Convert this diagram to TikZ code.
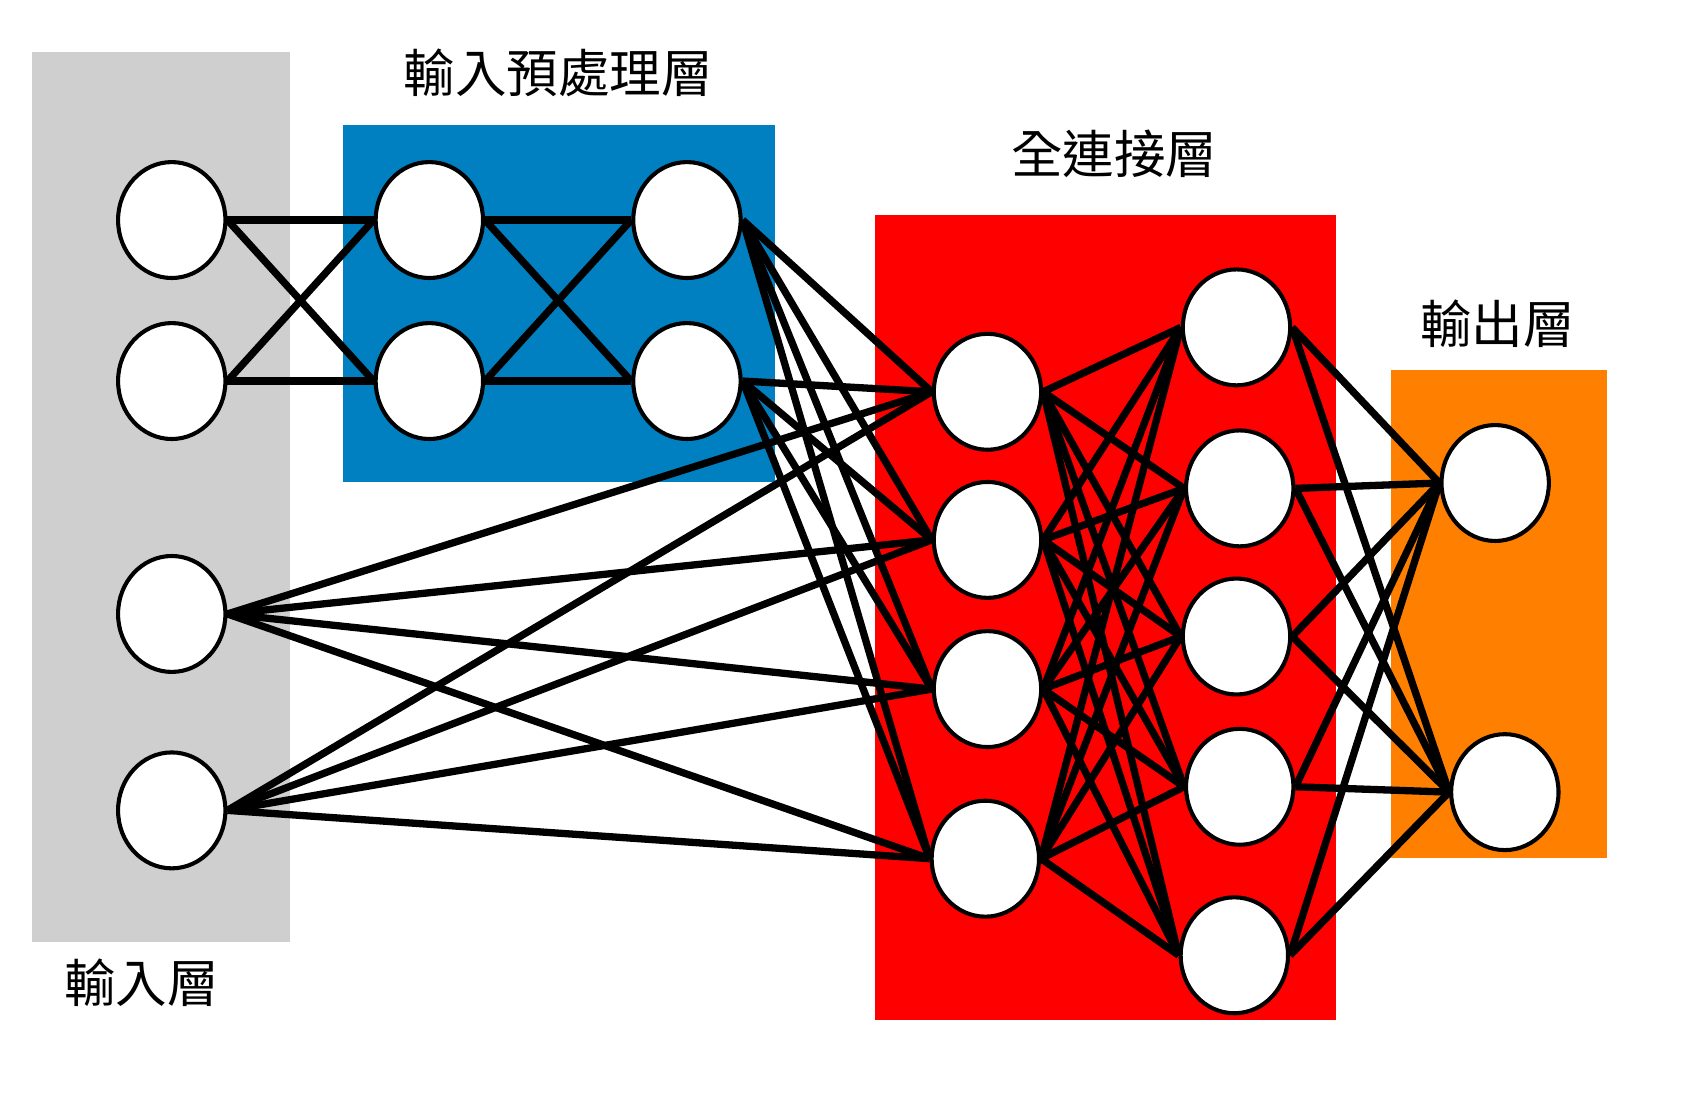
\documentclass[tikz,border=0pt]{standalone}
\usepackage{fontspec}
\newfontfamily\cjk{Noto Sans CJK TC}
\usetikzlibrary{shapes.geometric}
\pgfdeclarelayer{bg}
\pgfdeclarelayer{edges}
\pgfsetlayers{bg,edges,main}
\definecolor{graybox}{HTML}{CFCFCF}
\definecolor{bluebox}{HTML}{0080C0}
\definecolor{redbox}{HTML}{FF0000}
\definecolor{orangebox}{HTML}{FF8000}
\begin{document}
\begin{tikzpicture}[x=1pt,y=-1pt,
  neuron/.style={ellipse, draw=black, line width=3.8pt, fill=white, minimum width=100pt, minimum height=108pt, inner sep=0pt},
  conn/.style={line width=6.8pt, black},
  lbl/.style={font=\cjk\fontsize{48}{52}\selectfont, inner sep=0pt}]
\useasboundingbox (0,0) rectangle (1568,1029);
\begin{pgfonlayer}{bg}
  \fill[graybox] (30,48) rectangle (270,878);
  \fill[bluebox] (320,116) rectangle (722,449);
  \fill[redbox] (815,200) rectangle (1245,950);
  \fill[orangebox] (1296,345) rectangle (1497,799);
\end{pgfonlayer}
% input layer
\node[neuron] (i1) at (160,205) {};
\node[neuron] (i2) at (160,355) {};
\node[neuron] (i3) at (160,572) {};
\node[neuron] (i4) at (160,755) {};
% preprocessing
\node[neuron] (p1) at (400,205) {};
\node[neuron] (p2) at (400,355) {};
\node[neuron] (q1) at (640,205) {};
\node[neuron] (q2) at (640,355) {};
% fully connected
\node[neuron] (f1) at (920,365) {};
\node[neuron] (f2) at (920,503) {};
\node[neuron] (f3) at (920,642) {};
\node[neuron] (f4) at (918,800) {};
\node[neuron] (g1) at (1152,305) {};
\node[neuron] (g2) at (1155,455) {};
\node[neuron] (g3) at (1152,593) {};
\node[neuron] (g4) at (1155,733) {};
\node[neuron] (g5) at (1150,890) {};
% output
\node[neuron] (o1) at (1393,450) {};
\node[neuron] (o2) at (1402,738) {};
% labels
\node[lbl] (t1) at (520,68) {輸入預處理層};
\node[lbl] (t2) at (1038,143) {全連接層};
\node[lbl] (t3) at (1395,302) {輸出層};
\node[lbl] (t4) at (132,916) {輸入層};
\begin{pgfonlayer}{edges}
  \foreach \a in {i1,i2} \foreach \b in {p1,p2} \draw[conn] (\a.east) -- (\b.west);
  \foreach \a in {p1,p2} \foreach \b in {q1,q2} \draw[conn] (\a.east) -- (\b.west);
  \foreach \a in {q1,q2,i3,i4} \foreach \b in {f1,f2,f3,f4} \draw[conn] (\a.east) -- (\b.west);
  \foreach \a in {f1,f2,f3,f4} \foreach \b in {g1,g2,g3,g4,g5} \draw[conn] (\a.east) -- (\b.west);
  \foreach \a in {g1,g2,g3,g4,g5} \foreach \b in {o1,o2} \draw[conn] (\a.east) -- (\b.west);
\end{pgfonlayer}
\end{tikzpicture}
\end{document}
